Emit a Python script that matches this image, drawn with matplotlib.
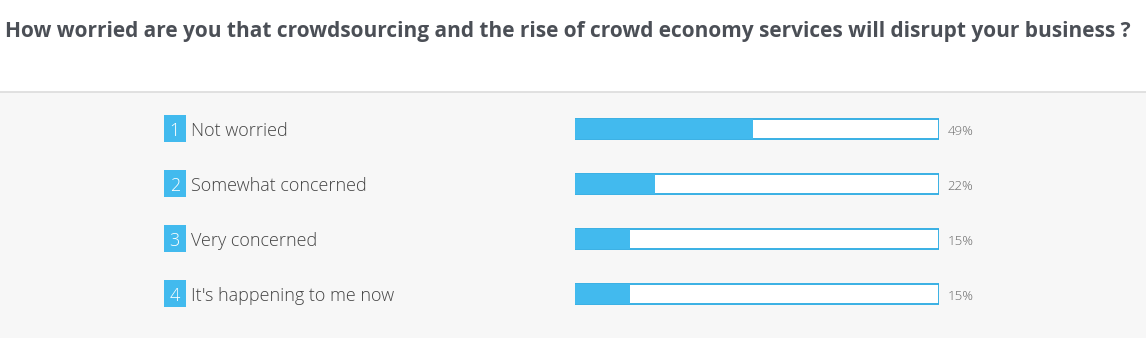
import matplotlib.pyplot as plt
from matplotlib.patches import Rectangle
from matplotlib.transforms import blended_transform_factory

# survey answers
question = "How worried are you that crowdsourcing and the rise of crowd economy services will disrupt your business ?"
answers = ["Not worried", "Somewhat concerned", "Very concerned", "It's happening to me now"]
shares = [49, 22, 15, 15]

blue = "#42baee"
edge = "#2aaae2"
W, H = 1146, 338

fig = plt.figure(figsize=(W / 100, H / 100), dpi=100)
fig.patch.set_facecolor("white")

# grey panel under the question with a thin divider
fig.add_artist(Rectangle((0, 0), 1, (H - 92) / H, transform=fig.transFigure,
                         facecolor="#f7f7f7", edgecolor="none", zorder=0))
fig.add_artist(plt.Line2D([0, 1], [(H - 92) / H] * 2, transform=fig.transFigure,
                          color="#dcdcdc", lw=1.2, zorder=1))

fig.text(5 / W, 1 - 31 / H, question, family="Open Sans", fontweight="bold",
         fontsize=15.0, color="#4b4f56", va="center", ha="left")

# bar axes: x runs 0-100 %, one row per answer
top, row_h = 101.5, 55
ax = fig.add_axes([575 / W, 1 - (top + row_h * len(answers)) / H,
                   363.5 / W, row_h * len(answers) / H])
ax.set_xlim(0, 100)
ax.set_ylim(len(answers) - 0.5, -0.5)
ax.axis("off")

rows = list(range(len(answers)))
ax.barh(rows, [100] * len(answers), height=0.36, color="white",
        edgecolor=edge, linewidth=1.3, zorder=1)
ax.barh(rows, shares, height=0.36, color=blue, edgecolor="none", zorder=2)

lab = blended_transform_factory(fig.transFigure, ax.transData)
for i, (name, v) in enumerate(zip(answers, shares)):
    ax.add_patch(Rectangle((164 / W, i - 0.26), 21.5 / W, 0.5, transform=lab,
                           facecolor=blue, edgecolor="none", clip_on=False))
    ax.text(174.8 / W, i + 0.0, str(i + 1), transform=lab, ha="center", va="center_baseline",
            family="Open Sans", fontweight="light", fontsize=13, color="white")
    ax.text(191 / W, i + 0.0, name, transform=lab, ha="left", va="center_baseline",
            family="Open Sans", fontweight="light", fontsize=13, color="#444444")
    ax.text(947.5 / W, i + 0.02, f"{v}%", transform=lab, ha="left", va="center_baseline",
            family="Open Sans", fontweight="light", fontsize=9.5, color="#666666")

fig.savefig("out.png", dpi=100)
